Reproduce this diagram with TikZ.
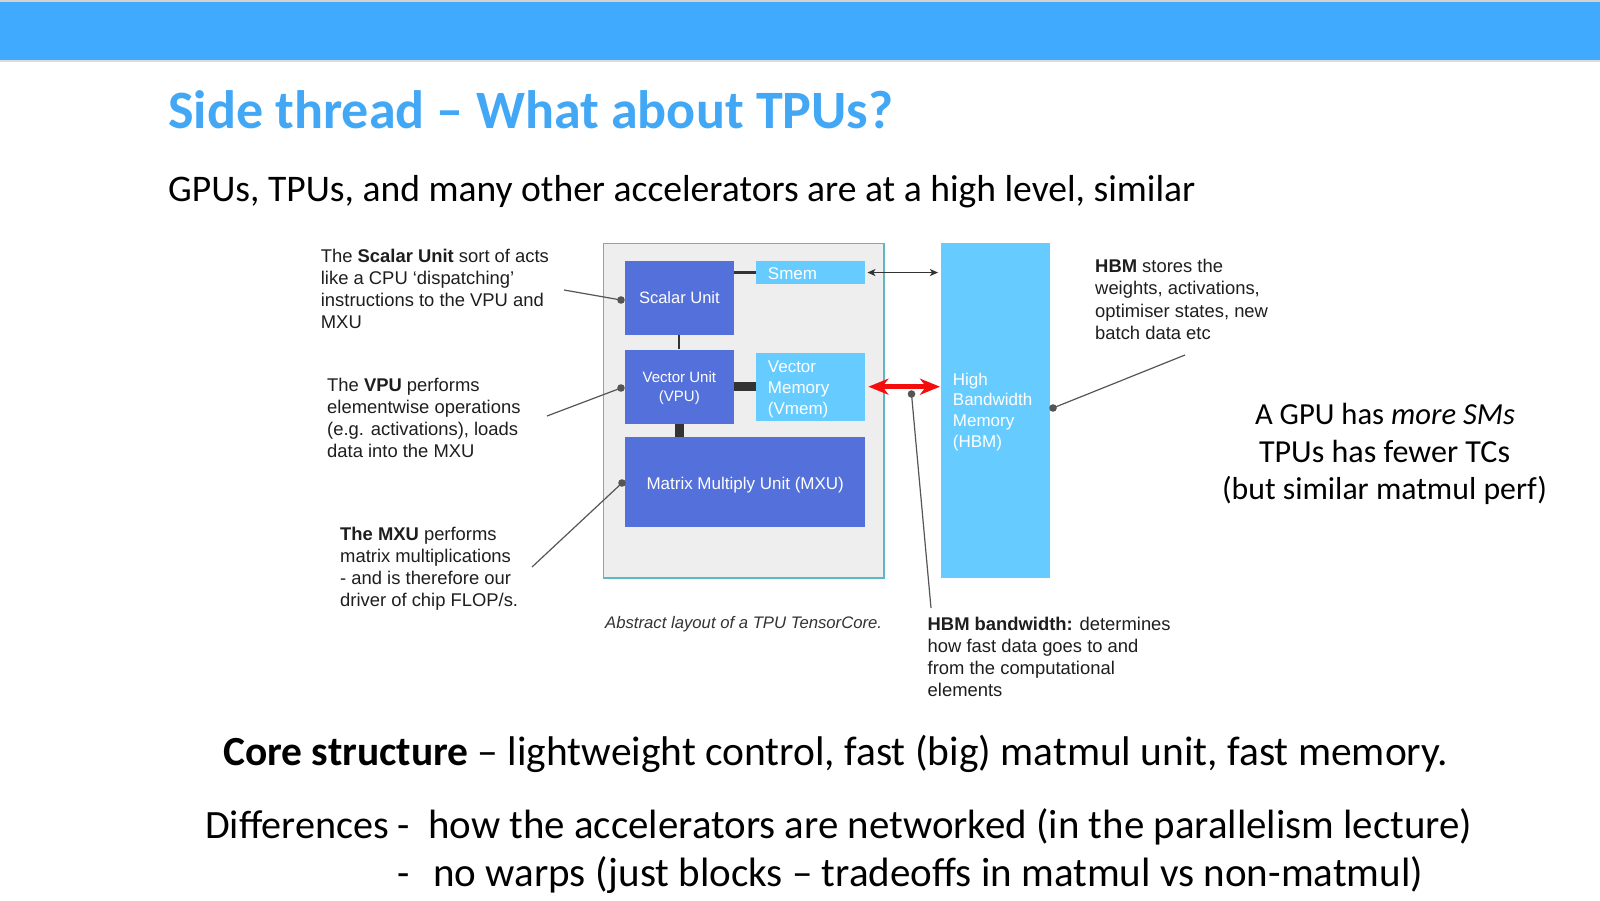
\documentclass[tikz,border=0pt]{standalone}
\usepackage{fontspec}
\setmainfont{Carlito}
\newfontfamily\arialf{Liberation Sans}
\usepackage{graphicx}
\usetikzlibrary{arrows.meta,calc}
\definecolor{barblue}{RGB}{64,170,255}
\definecolor{titleblue}{RGB}{66,168,245}
\definecolor{unitblue}{RGB}{84,112,219}
\definecolor{memblue}{RGB}{102,204,255}
\definecolor{corefill}{RGB}{238,238,238}
\definecolor{coreedge}{RGB}{95,183,196}
\definecolor{wire}{RGB}{51,51,51}
\definecolor{pointer}{RGB}{85,85,85}
\definecolor{note}{RGB}{30,30,30}
\definecolor{hot}{RGB}{245,12,12}
\definecolor{captc}{RGB}{51,51,51}
\newcommand{\fitto}[2]{\resizebox{#1pt}{!}{\fontsize{40}{48}\selectfont #2}}
\begin{document}
\begin{tikzpicture}[x=1pt,y=-1pt,
  slide/.style={inner sep=0pt, anchor=base west, text=black},
  slidec/.style={inner sep=0pt, anchor=base, text=black},
  unitbox/.style={fill=unitblue, inner sep=0pt, anchor=north west},
  membox/.style={fill=memblue, inner sep=0pt, anchor=north west},
  boxtext/.style={text=white, align=center, inner sep=0pt},
  memtext/.style={text=white, font=\arialf\fontsize{17}{20.8}\selectfont, align=left, inner sep=0pt, anchor=north west},
  notetext/.style={text=note, font=\arialf\fontsize{18.4}{22.1}\selectfont, align=left, inner sep=0pt, anchor=north west},
  pointerline/.style={draw=pointer, line width=1.2pt},
  pointerdot/.style={fill=pointer},
  thinwire/.style={draw=wire, line width=2.2pt},
  fatwire/.style={draw=wire, line width=8.5pt},
  smemlink/.style={draw=wire, line width=1.5pt, {Stealth[length=8pt,width=7pt,inset=2pt]}-{Stealth[length=8pt,width=7pt,inset=2pt]}},
  hbmlink/.style={draw=hot, line width=4.5pt, {Stealth[length=20pt,width=16pt,inset=6pt]}-{Stealth[length=20pt,width=16pt,inset=6pt]}}
]
\useasboundingbox (0,0) rectangle (1600,901);
\fill[white] (0,0) rectangle (1600,901);
% top bar
\fill[gray!35] (0,0) rectangle (1600,1.7);
\fill[barblue] (0,1.7) rectangle (1600,60);
\fill[gray!28] (0,60) rectangle (1600,62);

% slide texts
\node[slide, text=titleblue] (title) at (168,129) {\fitto{725}{\bfseries Side thread – What about TPUs?}};
\node[slide] (sub) at (168,202) {\fitto{1027}{GPUs, TPUs, and many other accelerators are at a high level, similar}};
\node[slidec] (gpu1) at (1385,424) {\fitto{260}{A GPU has \textit{more SMs}}};
\node[slidec] (gpu2) at (1384.5,462) {\fitto{251}{TPUs has fewer TCs}};
\node[slidec] (gpu3) at (1384.5,499) {\fitto{325}{(but similar matmul perf)}};
\node[slide] (core) at (223,765) {\fitto{1225}{\textbf{Core structure} – lightweight control, fast (big) matmul unit, fast memory.}};
\node[slide] (diffa) at (205,838) {\fitto{205}{Differences -}};
\node[slide] (diffb) at (428,838) {\fitto{1044}{how the accelerators are networked (in the parallelism lecture)}};
\node[slide, font=\fontsize{40}{48}\selectfont] (dash2) at (397,886) {-};
\node[slide] (diffc) at (433,886) {\fitto{990}{no warps (just blocks – tradeoffs in matmul vs non-matmul)}};

% TensorCore frame
\node[draw=coreedge, line width=1.4pt, fill=corefill, inner sep=0pt, anchor=north west,
      minimum width=280.3pt, minimum height=334.6pt] (tc) at (603,242.7) {};

% units
\node[unitbox, minimum width=108.3pt, minimum height=73.6pt] (scalar) at (625,260.7) {};
\node[membox, minimum width=109pt, minimum height=23.3pt] (smem) at (756,260.7) {};
\node[unitbox, minimum width=108.3pt, minimum height=74pt] (vpu) at (625,349.3) {};
\node[membox, minimum width=109pt, minimum height=68.4pt] (vmem) at (756,352.3) {};
\node[unitbox, minimum width=240pt, minimum height=90pt] (mxu) at (625,436.7) {};
\node[membox, minimum width=108.3pt, minimum height=334.6pt] (hbm) at (941,242.7) {};

% wires inside core
\draw[thinwire] (scalar.east |- smem.west) -- (smem.west);
\draw[thinwire] (scalar.south) -- (vpu.north);
\draw[fatwire] (vpu.east |- vmem.west) -- (vmem.west);
\draw[fatwire] (vpu.south) -- (vpu.south |- mxu.north);

% box labels
\node[boxtext, font=\arialf\fontsize{16.5}{20}\selectfont] (scalarlbl) at (scalar.center) {Scalar Unit};
\node[boxtext, font=\arialf\fontsize{15}{19}\selectfont] (vpulbl) at ([yshift=-2pt]vpu.center) {Vector Unit\\(VPU)};
\node[boxtext, font=\arialf\fontsize{17}{20}\selectfont] (mxulbl) at ([yshift=-3pt]mxu.center) {Matrix Multiply Unit (MXU)};
\node[memtext] (smemlbl) at (767.7,264.7) {\strut Smem};
\node[memtext] (vmemlbl) at (767.7,358.1) {\strut Vector\\Memory\\(Vmem)};
\node[memtext] (hbmlbl) at (952.7,370.4) {\strut High\\Bandwidth\\Memory\\(HBM)};

% memory links
\draw[smemlink] ([xshift=2pt]smem.east) -- ([xshift=-3pt]hbm.west |- smem.east);
\draw[hbmlink] ([xshift=3pt]vmem.east) -- ([xshift=-1pt]hbm.west |- vmem.east);

% caption
\node[inner sep=0pt, anchor=base west, text=captc, font=\arialf\itshape\fontsize{16.7}{20}\selectfont] (caption) at (605,628) {Abstract layout of a TPU TensorCore.};

% annotations
\node[notetext] (scnote) at (320.7,246.5) {\strut The \textbf{Scalar Unit} sort of acts\\like a CPU ‘dispatching’\\instructions to the VPU and\\MXU};
\node[notetext] (vpnote) at (327,375.5) {\strut The \textbf{VPU} performs\\elementwise operations\\(e.g. activations), loads\\data into the MXU};
\node[notetext] (mxnote) at (340,524.5) {\strut \textbf{The MXU} performs\\matrix multiplications\\- and is therefore our\\driver of chip FLOP/s.};
\node[notetext] (hsnote) at (1095,257.2) {\strut \textbf{HBM} stores the\\weights, activations,\\optimiser states, new\\batch data etc};
\node[notetext] (bwnote) at (927.5,614.5) {\strut \textbf{HBM bandwidth:} determines\\how fast data goes to and\\from the computational\\elements};

% pointers
\coordinate (scfree) at (564,290);
\coordinate (scdot) at (621,300);
\coordinate (vpfree) at (547,416);
\coordinate (vpdot) at (621,388);
\coordinate (mxfree) at (532,567);
\coordinate (mxdot) at (622,483);
\coordinate (bwdot) at (911.5,394);
\coordinate (bwfree) at (931,608);
\coordinate (hsdot) at (1053,408);
\coordinate (hsfree) at (1185,355);
\draw[pointerline] (scfree) -- (scdot);
\draw[pointerline] (vpfree) -- (vpdot);
\draw[pointerline] (mxfree) -- (mxdot);
\draw[pointerline] (bwfree) -- (bwdot);
\draw[pointerline] (hsfree) -- (hsdot);
\fill[pointerdot] (scdot) circle (3.8pt);
\fill[pointerdot] (vpdot) circle (3.8pt);
\fill[pointerdot] (mxdot) circle (3.8pt);
\fill[pointerdot] (bwdot) circle (3.8pt);
\fill[pointerdot] (hsdot) circle (3.8pt);
\end{tikzpicture}
\end{document}
